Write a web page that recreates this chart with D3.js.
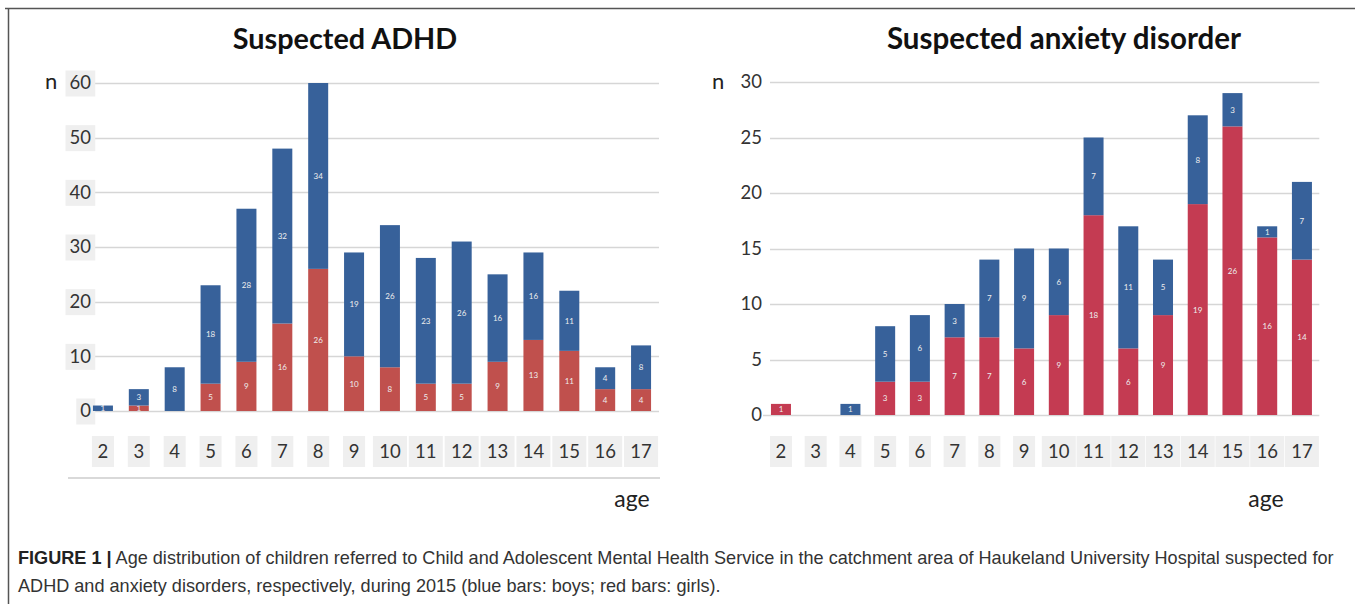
<!DOCTYPE html>
<html><head><meta charset="utf-8">
<script src="https://cdn.jsdelivr.net/npm/d3@7"></script>
<style>body{margin:0;background:#fff}svg{display:block}</style>
</head><body>
<svg id="c" width="1355" height="604"></svg>
<script>
const ages = ["2","3","4","5","6","7","8","9","10","11","12","13","14","15","16","17"];
const adhdGirls = [0,1,0,5,9,16,26,10,8,5,5,9,13,11,4,4];
const adhdBoys  = [1,3,8,18,28,32,34,19,26,23,26,16,16,11,4,8];
const anxGirls  = [1,0,0,3,3,7,7,6,9,18,6,9,19,26,16,14];
const anxBoys   = [0,0,1,5,6,3,7,9,6,7,11,5,8,3,1,7];
const adhdTicks = [0,10,20,30,40,50,60];
const anxTicks  = [0,5,10,15,20,25,30];
const captionBold = "FIGURE 1 |";
const captionLine1 = " Age distribution of children referred to Child and Adolescent Mental Health Service in the catchment area of Haukeland University Hospital suspected for";
const captionLine2 = "ADHD and anxiety disorders, respectively, during 2015 (blue bars: boys; red bars: girls).";

const svg = d3.select("#c");
const FONT = "Lato, 'Open Sans', sans-serif";
const BLUE = "#37619a";

// frame
svg.append("line").attr("x1",5).attr("x2",1355).attr("y1",8.5).attr("y2",8.5).attr("stroke","#555").attr("stroke-width",1.5);
svg.append("line").attr("x1",8.5).attr("x2",8.5).attr("y1",8).attr("y2",604).attr("stroke","#555").attr("stroke-width",1.5);

function panel(cfg){
  const g = svg.append("g");
  const x = d3.scaleBand().domain(ages).range(cfg.xr).paddingInner(cfg.pad).paddingOuter(cfg.pad/2);
  const y = d3.scaleLinear().domain(cfg.yd).range(cfg.yr);
  g.selectAll(".grid").data(cfg.ticks).join("line")
    .attr("x1", d => d===0 ? cfg.zeroStart : cfg.gridStart).attr("x2", cfg.xr[1])
    .attr("y1", d => Math.round(y(d))+0.5).attr("y2", d => Math.round(y(d))+0.5)
    .attr("stroke","#d6d6d6").attr("stroke-width",1.5);
  const ax = d3.axisLeft(y).tickValues(cfg.ticks).tickSize(0).tickPadding(0);
  const ag = g.append("g").attr("transform",`translate(${cfg.tickX},0)`).call(ax);
  ag.select(".domain").remove();
  ag.selectAll("text").attr("font-family",FONT).attr("font-size",18.5).attr("fill","#333");
  if (cfg.tickBoxes) {
    ag.selectAll(".tick").insert("rect","text")
      .attr("x", function(){ const t=d3.select(this.parentNode).select("text").node().getBBox(); return t.x-4; })
      .attr("y",-13).attr("height",26)
      .attr("width", function(){ const t=d3.select(this.parentNode).select("text").node().getBBox(); return t.width+8; })
      .attr("fill","#efefef");
  }
  const rows = ages.map((a,i)=>({age:a, girls:cfg.girls[i], boys:cfg.boys[i]}));
  const stack = d3.stack().keys(["girls","boys"])(rows);
  const colors = {girls:cfg.red, boys:BLUE};
  stack.forEach(s=>{
    const sg = g.append("g");
    sg.selectAll("rect").data(s.filter(d=>d[1]-d[0]>0)).join("rect")
      .attr("x", d=>x(d.data.age)).attr("width", x.bandwidth())
      .attr("y", d=>y(d[1])).attr("height", d=>y(d[0])-y(d[1]))
      .attr("fill", colors[s.key]);
    sg.selectAll("text").data(s.filter(d=>d[1]-d[0]>0)).join("text")
      .attr("x", d=>x(d.data.age)+x.bandwidth()/2)
      .attr("y", d=>(y(d[0])+y(d[1]))/2+3)
      .attr("text-anchor","middle").attr("font-family",FONT).attr("font-size",8)
      .attr("fill","#eeeeee").text(d=>d[1]-d[0]);
  });
  const xg = g.append("g");
  const lab = xg.selectAll("g").data(ages).join("g")
    .attr("transform", d=>`translate(${x(d)+x.bandwidth()/2},${cfg.xLabY})`);
  lab.append("rect").attr("x", d=> d.length>1 ? -17 : -11).attr("width", d=> d.length>1 ? 34 : 22)
    .attr("y",-16).attr("height",31).attr("fill","#efefef");
  lab.append("text").attr("text-anchor","middle").attr("y",6)
    .attr("font-family",FONT).attr("font-size",18.5).attr("fill","#333").text(d=>d);
  if (cfg.sepLine) {
    g.append("line").attr("x1",cfg.sepLine[0]).attr("x2",cfg.sepLine[1]).attr("y1",478).attr("y2",478)
      .attr("stroke","#ccc").attr("stroke-width",1.5);
  }
  g.append("text").attr("x",cfg.titleX).attr("y",49).attr("text-anchor","middle")
    .attr("font-family",FONT).attr("font-weight","bold").attr("font-size",cfg.titleSize).attr("fill","#111").text(cfg.title);
  g.append("text").attr("x",cfg.nX).attr("y",89).attr("font-family",FONT).attr("font-size",22).attr("fill","#222").text("n");
  g.append("text").attr("x",cfg.ageX).attr("y",507).attr("text-anchor","middle").attr("font-family",FONT).attr("font-size",23).attr("fill","#222").text("age");
}

panel({xr:[85,659], pad:0.4425, yd:[0,60], yr:[411,83], ticks:adhdTicks, girls:adhdGirls, boys:adhdBoys,
  red:"#c0504d", gridStart:93, zeroStart:93, tickX:91, tickBoxes:true, xLabY:452, sepLine:[68,660],
  title:"Suspected ADHD", titleX:345, titleSize:28.8, nX:45, ageX:632});
panel({xr:[763.6,1319.3], pad:0.424, yd:[0,30], yr:[415,82], ticks:anxTicks, girls:anxGirls, boys:anxBoys,
  red:"#c43b52", gridStart:770, zeroStart:763, tickX:762, tickBoxes:false, xLabY:452, sepLine:null,
  title:"Suspected anxiety disorder", titleX:1064, titleSize:29.5, nX:712, ageX:1266});

const cap = svg.append("g").attr("font-family","'Liberation Sans', Arial, sans-serif").attr("font-size",18.1).attr("fill","#333");
const t1 = cap.append("text").attr("x",18).attr("y",564);
t1.append("tspan").attr("font-weight","bold").attr("fill","#222").text(captionBold);
t1.append("tspan").text(captionLine1);
cap.append("text").attr("x",18).attr("y",592).text(captionLine2);
</script>
</body></html>
